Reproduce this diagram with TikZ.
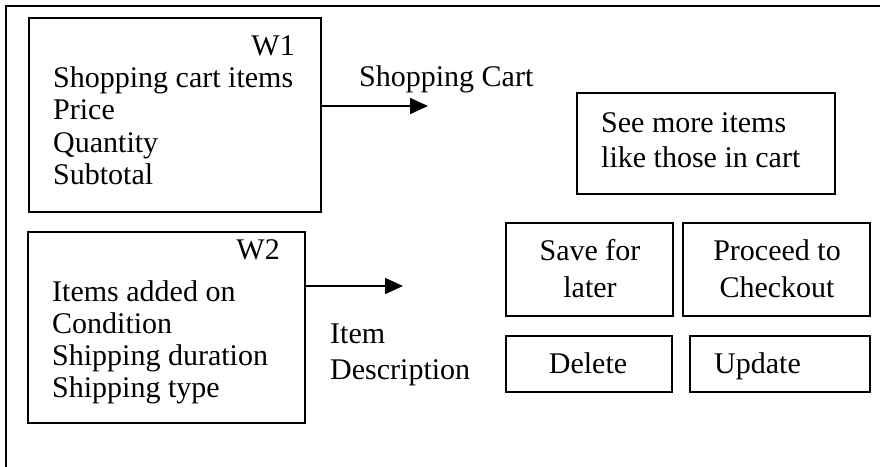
\documentclass[tikz,border=0pt]{standalone}
\usepackage{fontspec}
\setmainfont{Liberation Serif}
\usetikzlibrary{arrows.meta}

\tikzset{
  box/.style={draw, line width=1.8pt, rectangle, inner sep=0pt},
  txt/.style={inner sep=0pt, font=\fontsize{30}{32.5}\selectfont},
  flow/.style={line width=1.8pt, -{Triangle[length=18pt,width=16pt]}},
}

% multi-line nodes are anchored at the baseline of their last line
\begin{document}
\begin{tikzpicture}[x=1pt, y=-1pt]
  \useasboundingbox (0,0) rectangle (880,466);

  % outer frame (runs off the page on the right and bottom)
  \draw[line width=2.4pt] (6,480) -- (6,6) -- (890,6);

  % window W1
  \node[box, minimum width=292pt, minimum height=194pt] (w1) at (175,115) {};
  \node[txt, anchor=base east] (w1t) at (295,55) {W1};
  \node[txt, anchor=base west, align=left] (w1l) at (53,184.5)
    {Shopping cart items\\Price\\Quantity\\Subtotal};

  % window W2
  \node[box, minimum width=277pt, minimum height=191pt] (w2) at (166.5,327.5) {};
  \node[txt, anchor=base east] (w2t) at (280,259) {W2};
  \node[txt, anchor=base west, align=left, font=\fontsize{30}{32}\selectfont]
    (w2l) at (52,397)
    {Items added on\\Condition\\Shipping duration\\Shipping type};

  % arrows and their labels
  \coordinate (a1) at (428,106);
  \coordinate (a2) at (403,286);
  \draw[flow] (w1.east |- a1) -- (a1);
  \draw[flow] (w2.east |- a2) -- (a2);
  \node[txt, anchor=base west] (cart) at (359,86) {Shopping Cart};
  \node[txt, anchor=base west, align=left, font=\fontsize{30}{36.5}\selectfont]
    (desc) at (330,379.5) {Item\\Description};

  % buttons
  \node[box, minimum width=258pt, minimum height=101pt] (more) at (706,143.5) {};
  \node[txt, anchor=base west, align=left, font=\fontsize{30}{35}\selectfont]
    (moret) at (601,167) {See more items\\like those in cart};

  \node[box, minimum width=167pt, minimum height=93pt] (save) at (589.5,269.5) {};
  \node[txt, anchor=base, align=center, font=\fontsize{30}{37}\selectfont]
    (savet) at (590,297) {Save for\\later};

  \node[box, minimum width=187pt, minimum height=93pt] (proc) at (776.5,269.5) {};
  \node[txt, anchor=base, align=center, font=\fontsize{30}{37}\selectfont]
    (proct) at (777,297) {Proceed to\\Checkout};

  \node[box, minimum width=166pt, minimum height=56pt] (del) at (589,364) {};
  \node[txt, anchor=base] (delt) at (588,373) {Delete};

  \node[box, minimum width=180pt, minimum height=56pt] (upd) at (780,364) {};
  \node[txt, anchor=base west] (updt) at (714,373) {Update};
\end{tikzpicture}
\end{document}
